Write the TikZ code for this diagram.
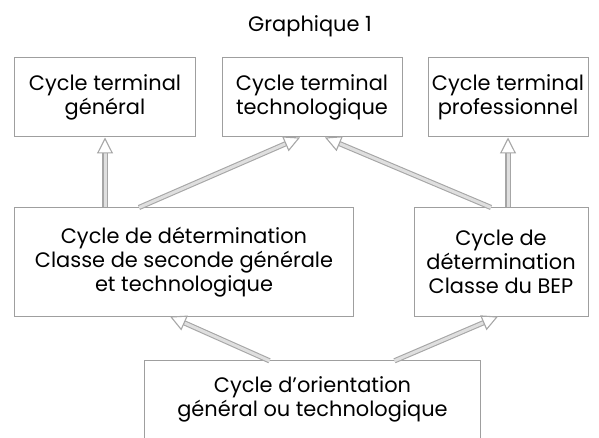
\documentclass[tikz,border=0pt]{standalone}
\usepackage{fontspec}
\setmainfont{Poppins}
\usetikzlibrary{arrows.meta}
\begin{document}
\begin{tikzpicture}[x=1bp,y=-1bp,
  box/.style={draw=gray!75, line width=1bp, align=center, inner sep=0pt, font=\fontsize{21}{24}\selectfont},
  nobox/.style={align=center, inner sep=0pt, font=\fontsize{21}{24}\selectfont},
  arr/.style={draw=gray!70, double=gray!25, double distance=3bp, line width=1.1bp,
    -{Triangle[open, length=16bp, width=16bp]}}]
\useasboundingbox (0,0) rectangle (599,438);
\node[font=\fontsize{21}{24}\selectfont] (title) at (310,26) {Graphique 1};
\node[box, minimum width=180bp, minimum height=79bp] (b1) at (105,97.5) {Cycle terminal\\général};
\node[box, minimum width=180bp, minimum height=79bp] (b2) at (312,97.5) {Cycle terminal\\technologique};
\node[box, minimum width=160bp, minimum height=79bp] (b3) at (508,97.5) {Cycle terminal\\professionnel};
\node[box, minimum width=338bp, minimum height=108bp] (b4) at (184,262) {Cycle de détermination\\Classe de seconde générale\\et technologique};
\node[box, minimum width=174bp, minimum height=108bp] (b5) at (501,262) {Cycle de\\détermination\\Classe du BEP};
\node[nobox, minimum width=335bp, minimum height=77bp] (b6) at (312.5,399.5) {Cycle d'orientation\\général ou technologique};
\draw[draw=gray!75, line width=1bp] (b6.south west) -- (b6.north west) -- (b6.north east) -- (b6.south east);
\draw[arr] (b4.north -| b1.south) -- (b1.south);
\draw[arr] ([xshift=-45bp]b4.north) -- ([xshift=-12bp]b2.south);
\draw[arr] ([xshift=-10bp]b5.north) -- ([xshift=13bp]b2.south);
\draw[arr] (b5.north -| b3.south) -- (b3.south);
\draw[arr] ([xshift=-43bp]b6.north) -- ([xshift=-14bp]b4.south);
\draw[arr] ([xshift=82bp]b6.north) -- ([xshift=-3bp]b5.south);
\end{tikzpicture}
\end{document}
